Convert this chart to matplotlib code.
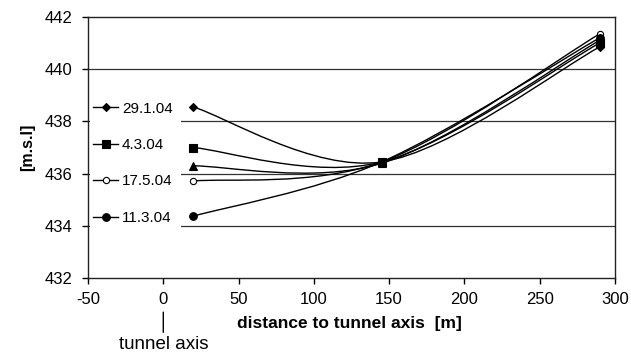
import numpy as np
import matplotlib
matplotlib.use("Agg")
import matplotlib.pyplot as plt
from matplotlib.path import Path
from matplotlib.patches import PathPatch, Rectangle
from matplotlib.lines import Line2D

plt.rcParams['font.family'] = ['Liberation Sans', 'DejaVu Sans']
plt.rcParams['axes.unicode_minus'] = False

# data
distance = [20, 145, 290]
s_29_1_04 = [438.55, 436.45, 440.85]
s_4_3_04 = [437.0, 436.45, 441.0]
s_triangle = [436.3, 436.4, 441.1]
s_17_5_04 = [435.72, 436.45, 441.35]
s_11_3_04 = [434.38, 436.45, 441.2]

x_ticks = [-50, 0, 50, 100, 150, 200, 250, 300]
y_ticks = [432, 434, 436, 438, 440, 442]

series = [
    ("29.1.04", s_29_1_04, dict(marker='D', markersize=4.5, mfc='black')),
    ("4.3.04", s_4_3_04, dict(marker='s', markersize=5.3, mfc='black')),
    (None, s_triangle, dict(marker='^', markersize=5.8, mfc='black')),
    ("17.5.04", s_17_5_04, dict(marker='o', markersize=4.5, mfc='white')),
    ("11.3.04", s_11_3_04, dict(marker='o', markersize=5.5, mfc='black')),
]


def smooth_path(xs, ys):
    # Excel-style smoothed line: cubic bezier through the points
    P = np.column_stack([xs, ys]).astype(float)
    n = len(P)
    verts = [P[0]]
    codes = [Path.MOVETO]
    for i in range(n - 1):
        prev = P[i - 1] if i > 0 else P[i]
        nxt = P[i + 2] if i + 2 < n else P[i + 1]
        c1 = P[i] + (P[i + 1] - prev) / 6.0
        c2 = P[i + 1] - (nxt - P[i]) / 6.0
        verts += [c1, c2, P[i + 1]]
        codes += [Path.CURVE4] * 3
    return Path(verts, codes)


fig = plt.figure(figsize=(6.31, 3.56), dpi=100)
ax = fig.add_axes([0.1395, 0.218, 0.835, 0.735])

ax.set_xlim(-50, 300)
ax.set_ylim(432, 442)
ax.set_xticks(x_ticks)
ax.set_yticks(y_ticks)
ax.tick_params(direction='out', length=4, width=1, labelsize=12, colors='black')
ax.tick_params(axis='x', pad=6)
ax.tick_params(axis='y', pad=7)
for sp in ax.spines.values():
    sp.set_linewidth(1.0)
    sp.set_color('#222222')

for v in y_ticks[1:-1]:
    ax.axhline(v, color='#333333', lw=0.9, zorder=1)

# white legend area hiding the grid lines
ax.add_patch(Rectangle((0.003, 0.165), 0.173, 0.54, transform=ax.transAxes,
                       facecolor='white', edgecolor='none', zorder=2))

handles = []
for label, vals, mk in series:
    ax.add_patch(PathPatch(smooth_path(distance, vals), facecolor='none',
                           edgecolor='black', lw=1.0, zorder=3))
    ax.plot(distance, vals, linestyle='none', color='black', mec='black',
            mew=0.8, zorder=4, **mk)
    if label:
        handles.append(Line2D([], [], color='black', lw=1.0, mec='black',
                              mew=0.8, label=label, **mk))

ax.legend(handles=handles, loc='upper left', bbox_to_anchor=(0.0095, 0.676),
          frameon=False, fontsize=11, handlelength=1.65, handletextpad=0.25,
          labelspacing=1.47, borderpad=0, borderaxespad=0)

ax.set_xlabel("distance to tunnel axis  [m]", fontsize=12.5, fontweight='bold')
ax.xaxis.set_label_coords(0.497, -0.145)
ax.set_ylabel("[m.s.l]", fontsize=11.5, fontweight='bold')
ax.yaxis.set_label_coords(-0.1, 0.5)

ax.annotate("tunnel axis", xy=(0, -0.129), xycoords=('data', 'axes fraction'),
            xytext=(0, -0.222), textcoords=('data', 'axes fraction'),
            ha='center', va='top', fontsize=13.5, annotation_clip=False,
            arrowprops=dict(arrowstyle='-', color='black', lw=1.0,
                            shrinkA=1, shrinkB=0))

fig.savefig("out.png", dpi=100)
